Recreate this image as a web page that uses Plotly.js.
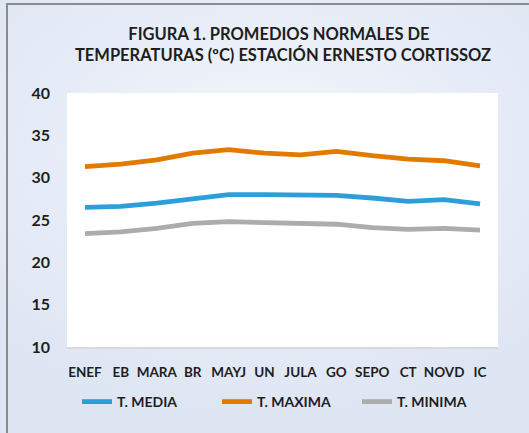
<!DOCTYPE html>
<html>
<head>
<meta charset="utf-8">
<script src="https://cdn.plot.ly/plotly-3.0.1.min.js"></script>
<style>
html,body{margin:0;padding:0;width:529px;height:433px;overflow:hidden;}
body{background:radial-gradient(ellipse 70% 60% at 50% 35%, #F4F7FB 0%, #E6ECF7 60%, #DFE6F3 100%);}
#frame{position:absolute;left:6px;top:3px;width:600px;height:500px;border-top:2px solid #8C8C8C;border-left:2px solid #8C8C8C;box-sizing:border-box;}
#chart{position:absolute;left:0;top:0;width:529px;height:433px;}
</style>
</head>
<body>
<div id="frame"></div>
<div id="chart"></div>
<script>
const months = ["ENEF","EB","MARA","BR","MAYJ","UN","JULA","GO","SEPO","CT","NOVD","IC"];
const tMedia  = [26.5, 26.6, 27.0, 27.5, 28.0, 28.0, 27.9, 27.9, 27.6, 27.2, 27.4, 26.9];
const tMaxima = [31.3, 31.6, 32.1, 32.9, 33.3, 32.9, 32.7, 33.1, 32.6, 32.2, 32.0, 31.4];
const tMinima = [23.4, 23.6, 24.0, 24.6, 24.8, 24.7, 24.6, 24.5, 24.1, 23.9, 24.0, 23.8];
const yTicks = [10, 15, 20, 25, 30, 35, 40];

const FONT = "Lato, 'Open Sans', sans-serif";
function series(name, vals, color){
  return {type:"scatter", mode:"lines", name:"<b>"+name+"</b>", x:months, y:vals,
    line:{color:color, width:4.8, shape:"linear"}};
}
const data = [
  series("T. MEDIA", tMedia, "#2C9FDB"),
  series("T. MAXIMA", tMaxima, "#E27A00"),
  series("T. MINIMA", tMinima, "#ACACAC")
];
const layout = {
  width:529, height:433,
  paper_bgcolor:"rgba(0,0,0,0)", plot_bgcolor:"#FFFFFF",
  margin:{l:67, r:31, t:93, b:86},
  font:{family:FONT, color:"#1E1E1E"},
  title:{text:"<b>FIGURA 1. PROMEDIOS NORMALES DE&nbsp;&nbsp;</b><br><b>TEMPERATURAS (ºC) ESTACIÓN ERNESTO CORTISSOZ</b>",
    x:283/529, xanchor:"center", y:1-40/433, yanchor:"middle",
    font:{family:FONT, size:16.5, color:"#1E1E1E"}},
  xaxis:{type:"category", tickvals:months, ticktext:months.map(m=>"<b>"+m+"</b>"),
    showgrid:false, zeroline:false, showline:true, linecolor:"#D9D9D9", linewidth:1.5,
    ticks:"", ticklabelstandoff:12, tickfont:{family:FONT, size:13.5, color:"#1E1E1E"},
    range:[-0.5, 11.5], fixedrange:true},
  yaxis:{range:[10,40], tickvals:yTicks, ticktext:yTicks.map(v=>"<b>"+v+"</b>"),
    showgrid:false, zeroline:false, showline:false, ticks:"", ticklabelstandoff:16,
    tickfont:{family:FONT, size:16, color:"#1E1E1E"}, fixedrange:true},
  legend:{orientation:"h", x:10/431, xanchor:"left", y:-55/254, yanchor:"middle",
    font:{family:FONT, size:14, color:"#1E1E1E"}, bgcolor:"rgba(0,0,0,0)",
    entrywidth:95, entrywidthmode:"pixels"},
  showlegend:true
};
Plotly.newPlot("chart", data, layout, {displayModeBar:false, staticPlot:true});
</script>
</body>
</html>
